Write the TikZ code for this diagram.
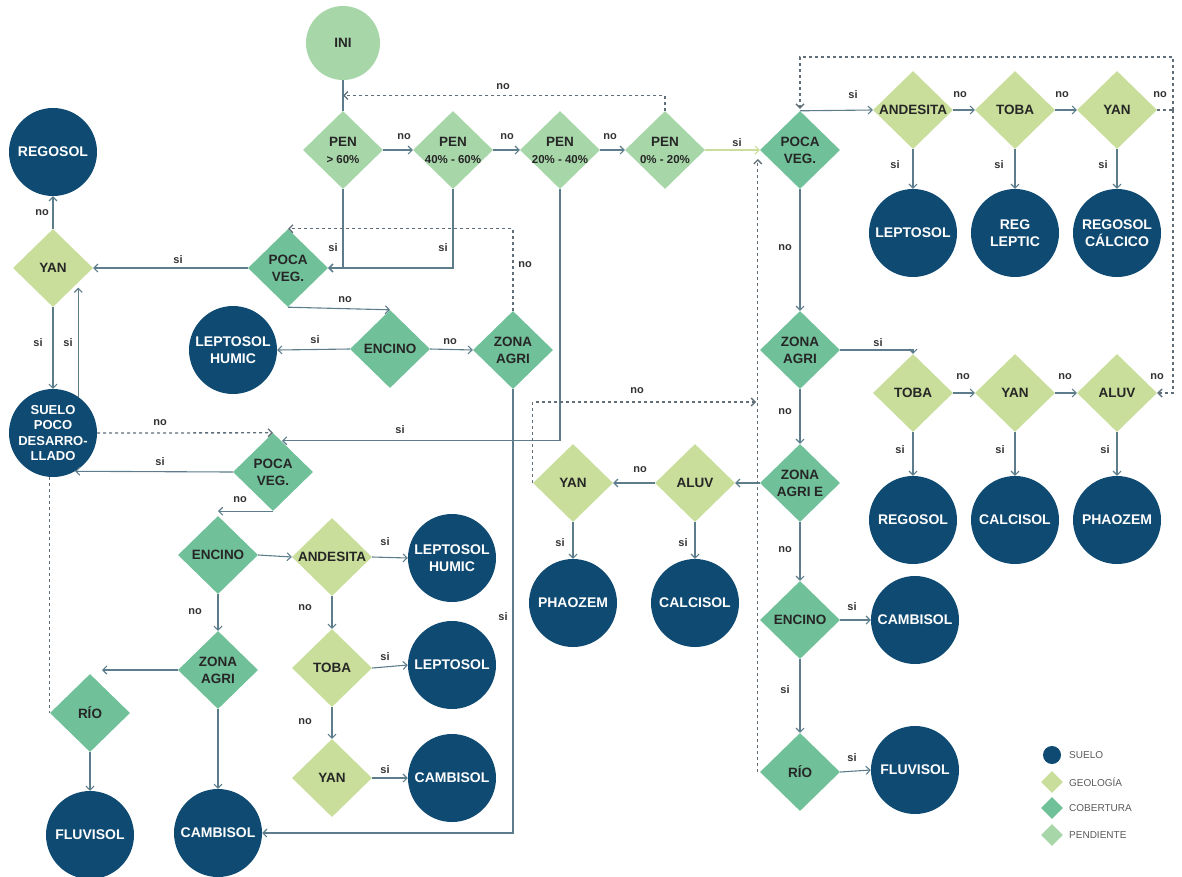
\documentclass[tikz,border=0pt]{standalone}
\usepackage{fontspec}
\setmainfont{Liberation Sans}
\usetikzlibrary{shapes.geometric,arrows.meta,calc}
\definecolor{soilc}{HTML}{0F4A73}
\definecolor{geoc}{HTML}{C9DE9A}
\definecolor{cobc}{HTML}{70C09A}
\definecolor{penc}{HTML}{A7D7A9}
\definecolor{linec}{HTML}{5E7D8C}
\definecolor{dashc}{HTML}{5F6E78}
\newcommand\pctfont{\fontsize{11.5}{17}\selectfont}
\newcommand\mydia[5]{\node[dia=#1, label={[dtxt]center:{#5}}] (#2) at (#3,#4) {};}
\newcommand\mysoil[4]{\node[soil, label={[ctxt]center:{#4}}] (#1) at (#2,#3) {};}
\newcommand\lbl[3]{\node[lab] (#1) at (#2) {#3};}
\tikzset{
 dia/.style={diamond, fill=#1, minimum width=80pt, minimum height=78pt, inner sep=0pt},
 soil/.style={circle, fill=soilc, minimum size=88pt, inner sep=0pt},
 dtxt/.style={inner sep=0pt, align=center, font=\bfseries\fontsize{13.5}{17}\selectfont, text=black!85},
 ctxt/.style={inner sep=0pt, align=center, font=\bfseries\fontsize{14}{17}\selectfont, text=white},
 lab/.style={inner sep=0pt, font=\bfseries\fontsize{11}{12}\selectfont, text=black!80},
 legt/.style={inner sep=0pt, anchor=west, font=\fontsize{10}{11}\selectfont, text=black!65},
 ln/.style={draw=linec, line width=1.1pt},
 arr/.style={draw=linec, line width=1.1pt, -{Straight Barb[length=4pt,width=8pt]}},
 dsh/.style={draw=dashc, line width=1.3pt, dash pattern=on 3pt off 3pt},
 darr/.style={dsh, -{Straight Barb[length=4pt,width=8pt]}},
}
\begin{document}
\begin{tikzpicture}[x=1pt,y=-1pt]
\useasboundingbox (0,0) rectangle (1182,876);
% ---------- pendiente ----------
\node[circle, fill=penc, minimum size=74pt, inner sep=0pt, label={[dtxt]center:INI}] (ini) at (343,43) {};
\mydia{penc}{pen1}{343}{150}{PEN\\\pctfont > 60\%}
\mydia{penc}{pen2}{453}{150}{PEN\\\pctfont 40\% - 60\%}
\mydia{penc}{pen3}{560}{150}{PEN\\\pctfont 20\% - 40\%}
\mydia{penc}{pen4}{665}{150}{PEN\\\pctfont 0\% - 20\%}
% ---------- cobertura ----------
\mydia{cobc}{pv1}{800}{150}{POCA\\VEG.}
\mydia{cobc}{za1}{800}{350}{ZONA\\AGRI}
\mydia{cobc}{zae}{800}{483}{ZONA\\AGRI E}
\mydia{cobc}{enc1}{800}{620}{ENCINO}
\mydia{cobc}{rio1}{800}{772}{RÍO}
\mydia{cobc}{pv2}{288}{268}{POCA\\VEG.}
\mydia{cobc}{enc2}{390}{349}{ENCINO}
\mydia{cobc}{za2}{513}{350}{ZONA\\AGRI}
\mydia{cobc}{pv3}{273}{472}{POCA\\VEG.}
\mydia{cobc}{enc3}{218}{555}{ENCINO}
\mydia{cobc}{za3}{218}{670}{ZONA\\AGRI}
\mydia{cobc}{rio3}{90}{713}{RÍO}
% ---------- geologia ----------
\mydia{geoc}{and1}{913}{110}{ANDESITA}
\mydia{geoc}{toba1}{1015}{110}{TOBA}
\mydia{geoc}{yanT}{1117}{110}{YAN}
\mydia{geoc}{toba2}{913}{393}{TOBA}
\mydia{geoc}{yan2}{1015}{393}{YAN}
\mydia{geoc}{aluv1}{1117}{393}{ALUV}
\mydia{geoc}{aluv2}{695}{483}{ALUV}
\mydia{geoc}{yan4}{573}{483}{YAN}
\mydia{geoc}{yanL}{53}{268}{YAN}
\mydia{geoc}{and3}{332}{557}{ANDESITA}
\mydia{geoc}{toba3}{332}{668}{TOBA}
\mydia{geoc}{yan3}{332}{778}{YAN}
% ---------- suelos ----------
\mysoil{reg1}{53}{152}{REGOSOL}
\mysoil{lep1}{913}{233}{LEPTOSOL}
\mysoil{rl}{1015}{233}{REG\\LEPTIC}
\mysoil{rc}{1117}{233}{REGOSOL\\CÁLCICO}
\mysoil{reg2}{913}{520}{REGOSOL}
\mysoil{calc2}{1015}{520}{CALCISOL}
\mysoil{pha2}{1117}{520}{PHAOZEM}
\mysoil{lh1}{233}{350}{LEPTOSOL\\HUMIC}
\node[soil, label={[ctxt, font=\bfseries\fontsize{13}{15.5}\selectfont]center:{SUELO\\POCO\\DESARRO-\\LLADO}}] (suelo) at (53,433) {};
\mysoil{pha4}{573}{603}{PHAOZEM}
\mysoil{calc4}{695}{603}{CALCISOL}
\mysoil{cam1}{915}{620}{CAMBISOL}
\mysoil{flu1}{915}{770}{FLUVISOL}
\mysoil{lh2}{452}{558}{LEPTOSOL\\HUMIC}
\mysoil{lep3}{452}{665}{LEPTOSOL}
\mysoil{cam3}{452}{778}{CAMBISOL}
\mysoil{flu3}{90}{835}{FLUVISOL}
\mysoil{camb3}{218}{833}{CAMBISOL}
% ---------- connectors: top ----------
\draw[ln] (ini) -- (pen1);
\draw[arr] (pen1.east) -- (pen2.west);
\draw[arr] (pen2.east) -- (pen3.west);
\draw[arr] (pen3.east) -- (pen4.west);
\draw[arr, draw=geoc] (pen4.east) -- (pv1.west);
\coordinate (m1) at ($(ini.south)!0.5!(pen1.north)$);
\draw[darr] (pen4.north) |- (m1);
\draw[arr] (pen1.south) |- (pv2.east);
\draw[arr] (pen2.south) |- (pv2.east);
\draw[arr] (pen3.south) |- ($(pv3.north)+(9,8)$);
% ---------- connectors: left ----------
\draw[arr] (pv2.south) -- (enc2.north);
\draw[arr] (enc2.west) -- (lh1.east);
\draw[arr] (enc2.east) -- (za2.west);
\draw[darr] (za2.north) |- (pv2.north);
\draw[arr] (pv2.west) -- (yanL.east);
\draw[arr] (yanL.north) -- (reg1.south);
\draw[arr] (yanL.south) -- (suelo.north);
\draw[arr] (suelo.55) -- (suelo.55 |- yanL.south east);
\draw[darr] (suelo.east) -- (pv3.north);
\draw[arr] (pv3.west) -- (suelo.-60);
\draw[arr] (pv3.south) -- (pv3.south -| enc3.north);
\draw[arr] (enc3.east) -- (and3.west);
\draw[arr] (and3.east) -- (lh2.west);
\draw[arr] (and3.south) -- (toba3.north);
\draw[arr] (toba3.east) -- (lep3.west);
\draw[arr] (toba3.south) -- (yan3.north);
\draw[arr] (yan3.east) -- (cam3.west);
\draw[arr] (enc3.south) -- (za3.north);
\draw[arr] (za3.west) -- ($(za3.west -| rio3.north)+(12,0)$);
\draw[arr] (za3.south) -- (camb3.north);
\draw[arr] (rio3.south) -- (flu3.north);
\draw[dsh] (suelo.south -| rio3.west) -- (rio3.west);
\draw[arr] (za2.south) |- (camb3.east);
% ---------- connectors: right ----------
\draw[arr] (pv1.north) -- (and1.west);
\draw[arr] (and1.east) -- (toba1.west);
\draw[arr] (toba1.east) -- (yanT.west);
\coordinate (rj) at (1173,110);
\coordinate (rt) at (1173,57);
\draw[dsh] (yanT.east) -- (rj);
\draw[darr] (rj) -- (rt) -| ($(pv1.north)+(0,-2)$);
\draw[darr] (rj) |- (aluv1.east);
\draw[arr] (and1.south) -- (lep1.north);
\draw[arr] (toba1.south) -- (rl.north);
\draw[arr] (yanT.south) -- (rc.north);
\draw[arr] (pv1.south) -- (za1.north);
\draw[arr] (za1.east) -| (toba2.north);
\draw[arr] (toba2.east) -- (yan2.west);
\draw[arr] (yan2.east) -- (aluv1.west);
\draw[arr] (toba2.south) -- (reg2.north);
\draw[arr] (yan2.south) -- (calc2.north);
\draw[arr] (aluv1.south) -- (pha2.north);
\draw[arr] (za1.south) -- (zae.north);
\draw[arr] (zae.west) -- (aluv2.east);
\draw[arr] (aluv2.west) -- (yan4.east);
\draw[arr] (aluv2.south) -- (calc4.north);
\draw[arr] (yan4.south) -- (pha4.north);
\coordinate (dj) at (756,402);
\draw[darr] (yan4.west) |- (dj);
\draw[arr] (zae.south) -- (enc1.north);
\draw[arr] (enc1.east) -- (cam1.west);
\draw[arr] (enc1.south) -- (rio1.north);
\draw[arr] (rio1.east) -- (flu1.west);
\draw[darr] ([xshift=-2pt]rio1.west) -- ($(rio1.west |- pv1.west)+(-2,9)$);
% ---------- labels ----------
\lbl{l1}{404,137}{no}
\lbl{l2}{507,137}{no}
\lbl{l3}{610,137}{no}
\lbl{l4}{737,143}{si}
\lbl{l5}{503,87}{no}
\lbl{l6}{853,95}{si}
\lbl{l7}{960,95}{no}
\lbl{l8}{1062,95}{no}
\lbl{l9}{1160,95}{no}
\lbl{l10}{895,165}{si}
\lbl{l11}{999,165}{si}
\lbl{l12}{1103,165}{si}
\lbl{l13}{785,248}{no}
\lbl{l14}{333,248}{si}
\lbl{l15}{443,248}{si}
\lbl{l16}{525,265}{no}
\lbl{l17}{178,260}{si}
\lbl{l18}{42,213}{no}
\lbl{l19}{345,300}{no}
\lbl{l20}{315,340}{si}
\lbl{l21}{450,342}{no}
\lbl{l22}{878,343}{si}
\lbl{l23}{38,343}{si}
\lbl{l24}{68,343}{si}
\lbl{l25}{963,377}{no}
\lbl{l26}{1065,377}{no}
\lbl{l27}{1157,377}{no}
\lbl{l28}{637,391}{no}
\lbl{l29}{785,412}{no}
\lbl{l30}{160,423}{no}
\lbl{l31}{400,430}{si}
\lbl{l32}{900,450}{si}
\lbl{l33}{1000,450}{si}
\lbl{l34}{1105,450}{si}
\lbl{l35}{160,462}{si}
\lbl{l36}{640,470}{no}
\lbl{l37}{240,500}{no}
\lbl{l38}{385,542}{si}
\lbl{l39}{683,543}{si}
\lbl{l40}{560,543}{si}
\lbl{l41}{785,550}{no}
\lbl{l42}{852,607}{si}
\lbl{l43}{305,608}{no}
\lbl{l44}{195,612}{no}
\lbl{l45}{503,617}{si}
\lbl{l46}{385,657}{si}
\lbl{l47}{785,690}{si}
\lbl{l48}{305,722}{no}
\lbl{l49}{852,758}{si}
\lbl{l50}{385,770}{si}
% ---------- legend ----------
\node[circle, fill=soilc, minimum size=18pt, inner sep=0pt] (lg1) at (1052,755) {};
\node[diamond, fill=geoc, minimum width=22pt, minimum height=22pt, inner sep=0pt] (lg2) at (1052,782) {};
\node[diamond, fill=cobc, minimum width=22pt, minimum height=22pt, inner sep=0pt] (lg3) at (1052,808) {};
\node[diamond, fill=penc, minimum width=22pt, minimum height=22pt, inner sep=0pt] (lg4) at (1052,835) {};
\node[legt] (lt1) at (1069,755) {SUELO};
\node[legt] (lt2) at (1069,782) {GEOLOGÍA};
\node[legt] (lt3) at (1069,808) {COBERTURA};
\node[legt] (lt4) at (1069,835) {PENDIENTE};
\end{tikzpicture}
\end{document}
